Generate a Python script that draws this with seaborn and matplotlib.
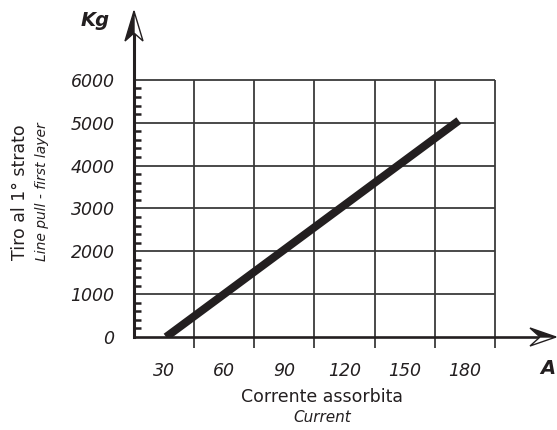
import pandas as pd
import matplotlib.pyplot as plt
import seaborn as sns
from matplotlib.patches import Polygon
from matplotlib.ticker import FixedLocator

# Data
current = [31, 177]          # A
pull = [0, 5050]             # Kg
x_ticks = [30, 60, 90, 120, 150, 180]
y_ticks = [0, 1000, 2000, 3000, 4000, 5000, 6000]
grid_x = [45, 75, 105, 135, 165, 195]
grid_y = [1000, 2000, 3000, 4000, 5000, 6000]
minor_y = [v for v in range(200, 6000, 200) if v % 1000 != 0]

df = pd.DataFrame({'current': current, 'pull': pull})

W, H = 557, 430
INK = '#231f20'

sns.set_style('white')
plt.rcParams['font.family'] = ['DejaVu Sans']

fig = plt.figure(figsize=(W / 100, H / 100), dpi=100)
# axes from pixel 134 (left) to 557, y from 337 (bottom) to ~11
ax = fig.add_axes([134 / W, (H - 337) / H, (W - 134) / W, 325.7 / H])

sns.lineplot(data=df, x='current', y='pull', color=INK, lw=5.8,
             solid_capstyle='butt', ax=ax, zorder=5)

ax.set_xlim(15, 226)
ax.set_ylim(0, 7600)

# grid
ax.hlines(grid_y, 15, 195, color='#3a3a3a', lw=1.3, zorder=2)
ax.vlines(grid_x, -250, 6000, color='#3a3a3a', lw=1.3, zorder=2, clip_on=False)

# spines
for s in ['top', 'right']:
    ax.spines[s].set_visible(False)
ax.spines['left'].set_bounds(0, 7100)
ax.spines['left'].set_linewidth(2.2)
ax.spines['left'].set_color(INK)
ax.spines['bottom'].set_bounds(15, 218)
ax.spines['bottom'].set_linewidth(1.9)
ax.spines['bottom'].set_color(INK)

ax.set_xticks(x_ticks)
ax.set_yticks(y_ticks)
ax.set_xticklabels([str(v) for v in x_ticks], style='italic', fontsize=12.5, color=INK)
ax.set_yticklabels([str(v) for v in y_ticks], style='italic', fontsize=12.5, color=INK)
ax.tick_params(axis='x', length=0, pad=18)
ax.tick_params(axis='y', length=0, pad=14)
ax.yaxis.set_minor_locator(FixedLocator(minor_y))
ax.tick_params(axis='y', which='minor', direction='in', length=5, width=1.8,
               color=INK, left=True)
ax.set_xlabel('')
ax.set_ylabel('')


def px(x, y):
    return (x / W, (H - y) / H)


# arrowheads (half filled)
fig.patches.append(Polygon([px(134, 11), px(125, 41), px(134, 33)], closed=True,
                           facecolor=INK, edgecolor=INK, lw=1, transform=fig.transFigure))
fig.patches.append(Polygon([px(134, 11), px(134, 33), px(143, 41)], closed=True,
                           facecolor='white', edgecolor=INK, lw=1, transform=fig.transFigure))
fig.patches.append(Polygon([px(556, 337), px(530, 328), px(540, 337)], closed=True,
                           facecolor=INK, edgecolor=INK, lw=1, transform=fig.transFigure))
fig.patches.append(Polygon([px(556, 337), px(540, 337), px(530, 346)], closed=True,
                           facecolor='white', edgecolor=INK, lw=1, transform=fig.transFigure))

# unit labels
fig.text(*px(95, 20), 'Kg', fontsize=14, fontweight='bold', style='italic',
         ha='center', va='center', color=INK)
fig.text(*px(555, 368), 'A', fontsize=14, fontweight='bold', style='italic',
         ha='right', va='center', color=INK)

# axis titles
fig.text(*px(322, 397), 'Corrente assorbita', fontsize=12.5, ha='center', va='center', color=INK)
fig.text(*px(322, 418), 'Current', fontsize=11, style='italic', ha='center', va='center', color=INK)
fig.text(*px(20, 192), 'Tiro al 1° strato', fontsize=12.5, rotation=90,
         ha='center', va='center', color=INK)
fig.text(*px(42, 192), 'Line pull - first layer', fontsize=10, style='italic', rotation=90,
         ha='center', va='center', color=INK)

fig.savefig('out.png', dpi=100)
plt.close()
